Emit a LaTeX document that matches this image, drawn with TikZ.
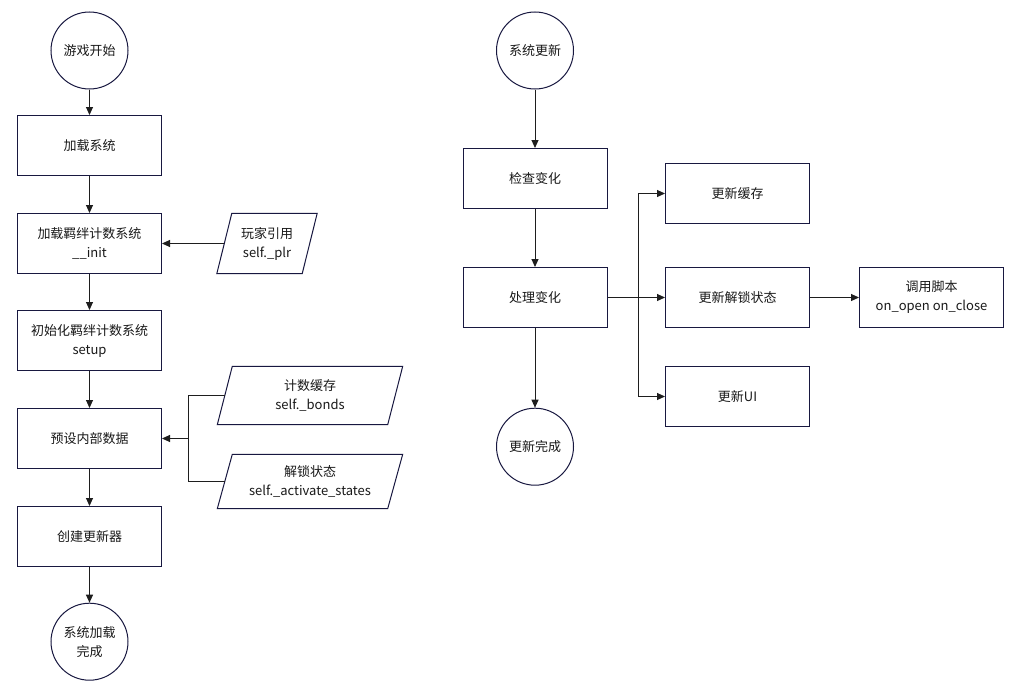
\documentclass[tikz,border=0pt]{standalone}
\usepackage{fontspec}
\setmainfont{Noto Sans CJK SC}
\usetikzlibrary{arrows.meta,calc}
\definecolor{bord}{RGB}{24,24,64}
\definecolor{ln}{RGB}{30,30,30}
\definecolor{txt}{RGB}{25,25,25}
\begin{document}
\begin{tikzpicture}[x=1pt,y=-1pt,
  every node/.style={font=\fontsize{13pt}{19pt}\selectfont, text=txt, align=center, inner sep=0pt},
  procbox/.style={draw=bord, line width=1pt, minimum width=144pt, minimum height=60pt, fill=white},
  term/.style={draw=bord, line width=1pt, circle, minimum size=77pt},
  flow/.style={draw=ln, line width=1pt, -{Triangle[length=8pt,width=7pt]}},
  plain/.style={draw=ln, line width=1pt},
  pgram/.style={draw=bord, line width=1pt}
]
\useasboundingbox (0,0) rectangle (1015,688);
\fill[white] (0,0) rectangle (1015,688);

% left column
\node[term] (s1) at (89.5,50.5) {游戏开始};
\node[procbox] (b1) at (89.5,145.5) {加载系统};
\node[procbox] (b2) at (89.5,243.5) {加载羁绊计数系统\\\_\_init};
\node[procbox] (b3) at (89.5,340.5) {初始化羁绊计数系统\\setup};
\node[procbox] (b4) at (89.5,438.5) {预设内部数据};
\node[procbox] (b5) at (89.5,536.5) {创建更新器};
\node[term] (e1) at (89.5,641.7) {系统加载\\完成};

% parallelograms (text nodes, shapes drawn from anchors)
\node[minimum width=100pt, minimum height=60pt] (p1) at (267,243.5) {玩家引用\\self.\_plr};
\node[minimum width=185pt, minimum height=58pt] (p2) at (310,395.5) {计数缓存\\self.\_bonds};
\node[minimum width=185pt, minimum height=54pt] (p3) at (310,481.5) {解锁状态\\self.\_activate\_states};
\foreach \p in {p1,p2,p3}{
  \draw[pgram] ($(\p.north west)+(15,0)$) -- (\p.north east) -- ($(\p.south east)+(-15,0)$) -- (\p.south west) -- cycle;
}
\coordinate (p1l) at ($(p1.west)+(7.5,0)$);
\coordinate (p2l) at ($(p2.west)+(7.5,0)$);
\coordinate (p3l) at ($(p3.west)+(7.5,0)$);
\coordinate (jn) at (188.5,438.5);

\draw[flow] (s1) -- (b1);
\draw[flow] (b1) -- (b2);
\draw[flow] (b2) -- (b3);
\draw[flow] (b3) -- (b4);
\draw[flow] (b4) -- (b5);
\draw[flow] (b5) -- (e1);
\draw[flow] (p1l) -- (b2.east);
\draw[plain] (p2l) -| (jn) |- (p3l);
\draw[flow] (jn) -- (b4.east);

% right column
\node[term] (s2) at (535,50.5) {系统更新};
\node[procbox] (c1) at (535,178.5) {检查变化};
\node[procbox] (c2) at (535,297.5) {处理变化};
\node[term] (e2) at (535,446.7) {更新完成};
\node[procbox] (u1) at (737.5,193.5) {更新缓存};
\node[procbox] (u2) at (737.5,297.5) {更新解锁状态};
\node[procbox] (u3) at (737.5,396.5) {更新UI};
\node[procbox] (sc) at (931.5,297.5) {调用脚本\\on\_open on\_close};
\coordinate (br) at (638.5,297.5);

\draw[flow] (s2) -- (c1);
\draw[flow] (c1) -- (c2);
\draw[flow] (c2) -- (e2);
\draw[flow] (c2.east) -- (u2.west);
\draw[flow] (br) |- (u1.west);
\draw[flow] (br) |- (u3.west);
\draw[flow] (u2) -- (sc);
\end{tikzpicture}
\end{document}
